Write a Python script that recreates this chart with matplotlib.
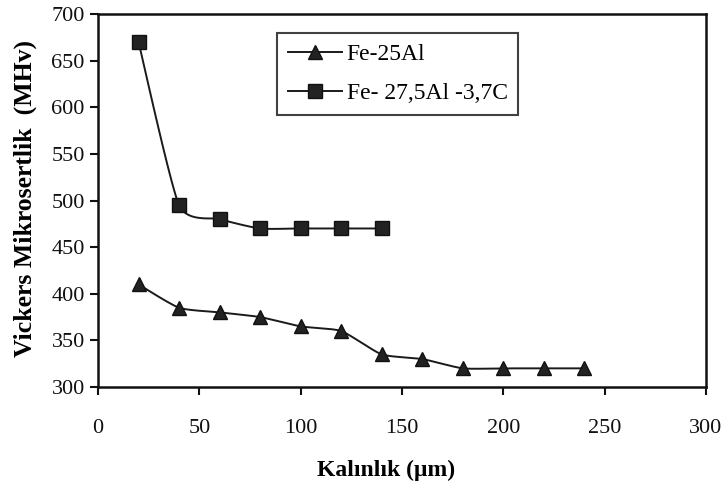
import numpy as np
import matplotlib
matplotlib.use("Agg")
import matplotlib.pyplot as plt

thickness_fe25al = [20, 40, 60, 80, 100, 120, 140, 160, 180, 200, 220, 240]
hardness_fe25al = [410, 385, 380, 375, 365, 360, 335, 330, 320, 320, 320, 320]
thickness_fe275al = [20, 40, 60, 80, 100, 120, 140]
hardness_fe275al = [670, 495, 480, 470, 470, 470, 470]
series_labels = ["Fe-25Al", "Fe- 27,5Al -3,7C"]
x_ticks = [0, 50, 100, 150, 200, 250, 300]
y_ticks = [300, 350, 400, 450, 500, 550, 600, 650, 700]

plt.rcParams['font.family'] = ['Liberation Serif', 'DejaVu Serif']


def smooth(x, y, n=20, tension=0.3):
    # Cardinal-spline smoothing (like a spreadsheet "smoothed line")
    x = np.asarray(x, float); y = np.asarray(y, float)
    px = np.concatenate([[x[0]], x, [x[-1]]])
    py = np.concatenate([[y[0]], y, [y[-1]]])
    ox, oy = [], []
    for i in range(1, len(px) - 2):
        p0 = np.array([px[i - 1], py[i - 1]]); p1 = np.array([px[i], py[i]])
        p2 = np.array([px[i + 1], py[i + 1]]); p3 = np.array([px[i + 2], py[i + 2]])
        c1 = p1 + (p2 - p0) * tension / 3
        c2 = p2 - (p3 - p1) * tension / 3
        t = np.linspace(0, 1, n)[:, None]
        pts = ((1 - t) ** 3) * p1 + 3 * ((1 - t) ** 2) * t * c1 + 3 * (1 - t) * t ** 2 * c2 + t ** 3 * p2
        ox.extend(pts[:, 0]); oy.extend(pts[:, 1])
    return np.array(ox), np.array(oy)


fig = plt.figure(figsize=(7.27, 4.93), dpi=100)
ax = fig.add_axes([98 / 727, 1 - 387 / 493, (706 - 98) / 727, (387 - 14) / 493])

for xs, ys, mk, ms, lab in [
    (thickness_fe25al, hardness_fe25al, '^', 10.5, series_labels[0]),
    (thickness_fe275al, hardness_fe275al, 's', 10, series_labels[1]),
]:
    sx, sy = smooth(xs, ys)
    ax.plot(sx, sy, color='#1a1a1a', lw=1.4, zorder=2)
    ax.plot(xs, ys, linestyle='none', marker=mk, markersize=ms,
            color='#222222', markeredgecolor='#111111', zorder=3)
    ax.plot([], [], color='#1a1a1a', lw=1.4, marker=mk, markersize=ms,
            markerfacecolor='#222222', markeredgecolor='#111111', label=lab)

ax.set_xlim(0, 300)
ax.set_ylim(300, 700)
ax.set_xticks(x_ticks)
ax.set_yticks(y_ticks)
ax.tick_params(axis='both', direction='out', length=6, width=1.5, labelsize=16, colors='#111111')
ax.tick_params(axis='x', pad=17)
for s in ax.spines.values():
    s.set_linewidth(1.8)
    s.set_color('#111111')

ax.set_xlabel("Kalınlık (μm)", fontsize=17, fontweight='bold')
ax.set_ylabel("Vickers Mikrosertlik  (MHv)", fontsize=18.5, fontweight='bold')
ax.xaxis.set_label_coords(0.474, -0.196)
ax.yaxis.set_label_coords(-0.10, 0.505)

leg = ax.legend(loc='upper left', bbox_to_anchor=(179 / 608, 1 - 19 / 373), fontsize=17,
                frameon=True, fancybox=False, edgecolor='#111111', handlelength=2.3,
                borderpad=0.45, labelspacing=0.75, handletextpad=0.2, borderaxespad=0)
leg.get_frame().set_linewidth(1.5)

fig.savefig("out.png", dpi=100, facecolor='white')
